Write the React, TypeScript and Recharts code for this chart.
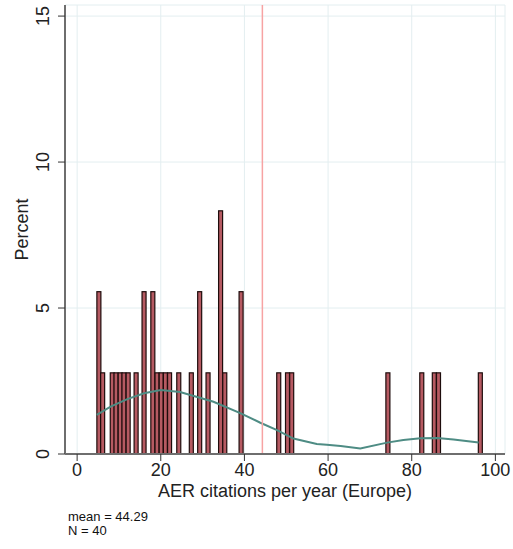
import React from 'react';
import {
  ComposedChart,
  Bar,
  Line,
  XAxis,
  YAxis,
  CartesianGrid,
  ReferenceLine,
} from 'recharts';

// histogram bins (bin centre, percent)
const binCenters = [
  5.2, 6.1, 8.4, 9.3, 10.3, 11.2, 12.2, 14.1, 16.0, 18.1, 19.1, 20.1, 21.1, 22.1,
  24.3, 27.3, 29.3, 31.3, 34.3, 35.3, 39.2, 48.2, 50.3, 51.3, 74.3, 82.4, 85.4,
  86.4, 96.4,
];
const binPercent = [
  5.56, 2.78, 2.78, 2.78, 2.78, 2.78, 2.78, 2.78, 5.56, 5.56, 2.78, 2.78, 2.78, 2.78,
  2.78, 2.78, 5.56, 2.78, 8.33, 2.78, 5.56, 2.78, 2.78, 2.78, 2.78, 2.78, 2.78,
  2.78, 2.78,
];

// kernel density (scaled to percent)
const densX = [4.7, 8, 12, 16, 20, 24.6, 28.5, 32.6, 39, 43.8, 47.8, 51.7, 57.3, 59.7, 63, 67.7, 74.1, 78, 82.1, 86.1, 90, 96];
const densY = [1.34, 1.62, 1.88, 2.08, 2.19, 2.12, 1.96, 1.79, 1.4, 1.07, 0.82, 0.53, 0.34, 0.32, 0.27, 0.19, 0.39, 0.48, 0.54, 0.55, 0.5, 0.39];

const xTicks = [0, 20, 40, 60, 80, 100];
const yTicks = [0, 5, 10, 15];
const meanValue = 44.29;
const nObs = 40;

const bars = binCenters.map((x, i) => ({ x, pct: binPercent[i] }));
const density = densX.map((x, i) => ({ x, dens: densY[i] }));

const FONT = '"Liberation Sans", Arial, sans-serif';

const BinShape = (props: any) => {
  const { x, y, width, height } = props;
  if (!height) return null;
  const cx = x + width / 2;
  const w = 4;
  return (
    <rect
      x={cx - w / 2}
      y={y}
      width={w}
      height={height}
      fill="#b65a62"
      stroke="#1e0c0c"
      strokeWidth={1.2}
    />
  );
};

const YTick = (props: any) => {
  const { x, y, payload } = props;
  return (
    <text
      x={x - 7}
      y={y}
      transform={`rotate(-90, ${x - 7}, ${y})`}
      textAnchor="middle"
      fontSize={18}
      fontFamily={FONT}
      fill="#222"
    >
      {payload.value}
    </text>
  );
};

export default function App() {
  return (
    <div
      style={{
        position: 'absolute',
        left: 0,
        top: 0,
        width: 513,
        height: 549,
        background: '#fff',
        fontFamily: FONT,
      }}
    >
      <ComposedChart
        width={513}
        height={549}
        data={bars}
        margin={{ top: 5, right: 8, left: 0, bottom: 55 }}
      >
        <CartesianGrid stroke="#e3eef0" strokeWidth={1} />
        <XAxis
          dataKey="x"
          type="number"
          domain={[-2.9, 102.3]}
          ticks={xTicks}
          allowDataOverflow
          height={40}
          stroke="#6e6e6e"
          strokeWidth={2}
          tickSize={7}
          tickLine={{ stroke: '#333', strokeWidth: 1 }}
          tick={{ fontSize: 18, fill: '#222', fontFamily: FONT }}
          label={{
            value: 'AER citations per year (Europe)',
            position: 'insideBottom',
            offset: -3,
            fontSize: 18,
            fill: '#222',
            fontFamily: FONT,
          }}
        />
        <YAxis
          type="number"
          domain={[0, 15.38]}
          ticks={yTicks}
          allowDataOverflow
          width={65}
          stroke="#6e6e6e"
          strokeWidth={2}
          tickSize={7}
          tickLine={{ stroke: '#333', strokeWidth: 1 }}
          tick={<YTick />}
          label={{
            value: 'Percent',
            angle: -90,
            position: 'insideLeft',
            offset: 22,
            fontSize: 18,
            fill: '#222',
            fontFamily: FONT,
            style: { textAnchor: 'middle' },
          }}
        />
        <Bar dataKey="pct" shape={<BinShape />} isAnimationActive={false} />
        <Line
          data={density}
          dataKey="dens"
          type="linear"
          stroke="#4e8c84"
          strokeWidth={2}
          dot={false}
          isAnimationActive={false}
        />
        <ReferenceLine x={meanValue} stroke="#f7a3a3" strokeWidth={1.5} />
      </ComposedChart>
      <div
        style={{
          position: 'absolute',
          left: 68,
          top: 510,
          fontSize: 13,
          lineHeight: '14px',
          color: '#111',
        }}
      >
        <div>mean = {meanValue.toFixed(2)}</div>
        <div>N = {nObs}</div>
      </div>
    </div>
  );
}
